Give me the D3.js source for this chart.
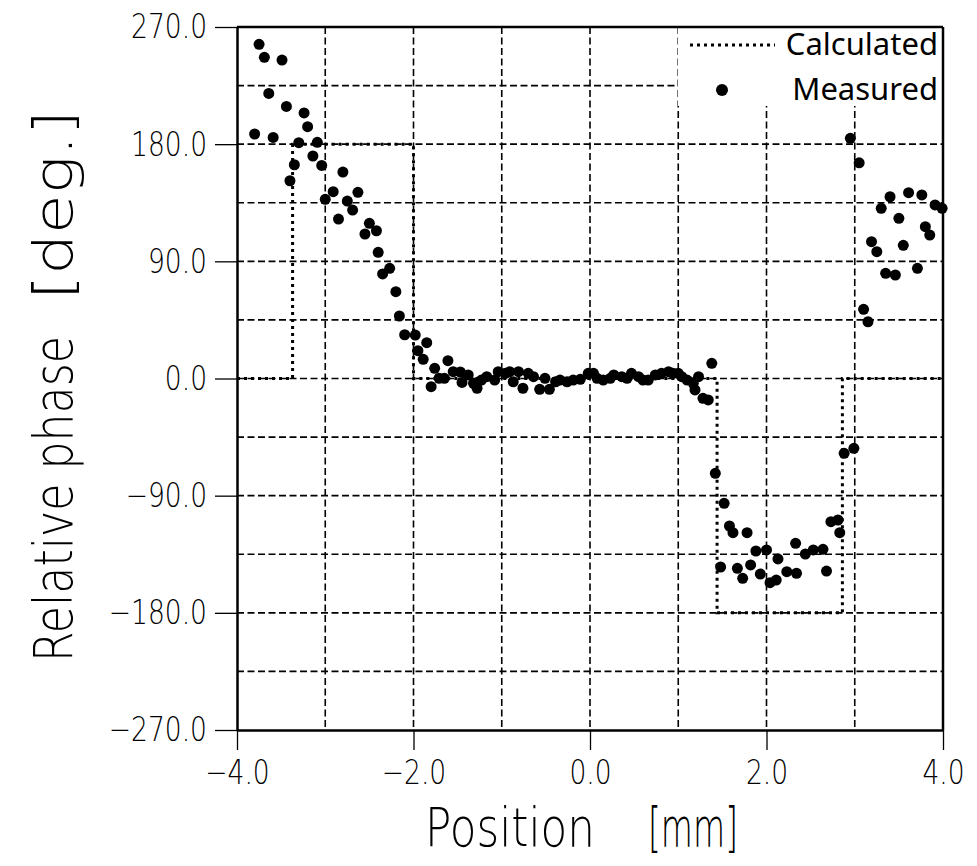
<!DOCTYPE html>
<html>
<head>
<meta charset="utf-8">
<script src="https://cdn.jsdelivr.net/npm/d3@7"></script>
<style>
  html, body { margin: 0; padding: 0; background: #fff; }
  svg { display: block; }
</style>
</head>
<body>
<div id="chart"></div>
<script>
// ---- data ----
const xTicks = [-4, -2, 0, 2, 4];
const yTicks = [-270, -180, -90, 0, 90, 180, 270];
const xGrid = [-3, -2, -1, 0, 1, 2, 3];
const yGrid = [-225, -180, -135, -90, -45, 0, 45, 90, 135, 180, 225];

// calculated phase (step profile)
const calcX = [-4, -3.37, -3.37, -2.0, -2.0, 1.44, 1.44, 2.86, 2.86, 4];
const calcY = [0, 0, 180, 180, 0, 0, -180, -180, 0, 0];

// measured phase
const measX = [-3.80, -3.75, -3.69, -3.64, -3.59, -3.49, -3.44, -3.40, -3.35, -3.30, -3.24, -3.20, -3.14, -3.09, -3.04, -3.00,
  -2.91, -2.85, -2.80, -2.75, -2.69, -2.63, -2.55, -2.50, -2.42, -2.40, -2.35, -2.27, -2.20, -2.16, -2.10, -1.98, -1.95, -1.89,
  -1.85, -1.80, -1.76, -1.71, -1.65, -1.61, -1.55, -1.47, -1.45, -1.38, -1.32, -1.28, -1.23, -1.17, -1.08, -1.04, -0.96, -0.91,
  -0.87, -0.81, -0.76, -0.70, -0.64, -0.57, -0.51, -0.46, -0.39, -0.34, -0.26, -0.19, -0.11, -0.02, 0.04, 0.08, 0.15, 0.23,
  0.27, 0.36, 0.42, 0.47, 0.55, 0.60, 0.66, 0.74, 0.81, 0.89, 0.94, 1.00, 1.04, 1.10, 1.17, 1.19, 1.23, 1.28, 1.34, 1.38,
  1.42, 1.48, 1.52, 1.58, 1.62, 1.67, 1.73, 1.78, 1.82, 1.88, 1.93, 2.00, 2.04, 2.11, 2.13, 2.23, 2.33, 2.34, 2.44, 2.53,
  2.64, 2.68, 2.73, 2.81, 2.83, 2.88, 2.95, 2.99, 3.05, 3.10, 3.15, 3.19, 3.25, 3.30, 3.35, 3.40, 3.46, 3.50, 3.55, 3.61,
  3.71, 3.76, 3.80, 3.85, 3.91, 3.99];
const measY = [187.8, 256.7, 246.7, 219, 185.2, 244.6, 209, 151.9, 164.2, 181.1, 204, 193.4, 170.9, 181.4, 163.7, 137.6,
  143.5, 122.5, 158.6, 136.3, 129.4, 143, 111, 119.2, 113.5, 96.9, 80.3, 84.6, 66.7, 48, 33.6, 33.4, 21.4, 14.7,
  27.5, -6.3, 7.8, 0.2, 0.1, 13.7, 5.2, 5, -3, 2.7, -3.7, -7.5, -1.2, 1.4, -1.2, 5.2, 4, 5.2,
  -2.5, 5.2, -7.5, 4, 1.4, -8.3, 0.1, -8.3, -2.5, -1.2, -2.5, -1.2, -0.6, 4, 4, 0.1, -1.2, 0.1,
  2.7, 1.4, 0.1, 4, 1.4, -1.2, -1.2, 2.7, 4, 5.2, 4, 4, 1.4, -1.2, -3.7, -8.8, 1.4, -15.2, -16.5, 11.7,
  -72.8, -144.8, -95.9, -113.3, -118.4, -145.8, -153.5, -118.4, -143.2, -132.5, -150.2, -131.7, -156.8, -154.8, -138.6, -148.4, -126.6, -149.6, -134.8, -131.7,
  -131.2, -147.9, -110, -108.7, -118.4, -57.5, 184.5, -53.6, 165.7, 53.1, 43.6, 105.1, 97.4, 130.7, 80.8, 139.6, 79.5, 123, 102.3, 142.7,
  84.6, 141, 116.6, 110.2, 133.3, 130.7];

const legendLabels = ["Calculated", "Measured"];

// ---- drawing ----
const W = 977, H = 866;
const L = 237, R = 943, T = 27, B = 730;
const thinFont = "'DejaVu Sans', sans-serif";
const SX = 0.78; // horizontal squeeze for the thin, narrow lettering

const svg = d3.select("#chart").append("svg").attr("width", W).attr("height", H);

const x = d3.scaleLinear().domain([-4, 4]).range([L, R]);
const y = d3.scaleLinear().domain([-270, 270]).range([B, T]);

// grid
const grid = svg.append("g").attr("stroke", "#000").attr("stroke-width", 1.6).attr("stroke-dasharray", "7,3.5");
grid.selectAll("line.v").data(xGrid).join("line")
  .attr("x1", d => x(d)).attr("x2", d => x(d)).attr("y1", T).attr("y2", B);
grid.selectAll("line.h").data(yGrid).join("line")
  .attr("x1", L).attr("x2", R).attr("y1", d => y(d)).attr("y2", d => y(d));

// calculated line
const calcData = calcX.map((v, i) => [v, calcY[i]]);
svg.append("path")
  .datum(calcData)
  .attr("fill", "none").attr("stroke", "#000").attr("stroke-width", 3)
  .attr("stroke-dasharray", "3,4")
  .attr("d", d3.line().x(d => x(d[0])).y(d => y(d[1])));

// legend background (covers grid)
svg.append("rect").attr("x", 678).attr("y", T + 1).attr("width", R - 678 - 1).attr("height", 106 - T - 1).attr("fill", "#fff");

// measured points
const measData = measX.map((v, i) => [v, measY[i]]);
svg.append("g").selectAll("circle").data(measData).join("circle")
  .attr("cx", d => x(d[0])).attr("cy", d => y(d[1])).attr("r", 5.5).attr("fill", "#000");

const fmt = d => d3.format(".1f")(d).replace("-", "\u2212");

// axes
const xAxis = d3.axisBottom(x).tickValues(xTicks).tickSize(20).tickSizeOuter(0).tickPadding(10).tickFormat(fmt);
const gx = svg.append("g").attr("transform", `translate(0,${B})`).call(xAxis);
gx.select(".domain").attr("stroke-width", 2.5);
gx.selectAll(".tick line").attr("stroke-width", 1.3);
gx.selectAll("text").attr("font-family", thinFont).attr("font-weight", 200).attr("font-size", 34).attr("fill", "#000")
  .attr("transform", `scale(${SX},1)`);

const yAxis = d3.axisLeft(y).tickValues(yTicks).tickSize(22).tickSizeOuter(0).tickPadding(8).tickFormat(fmt);
const gy = svg.append("g").attr("transform", `translate(${L},0)`).call(yAxis);
gy.select(".domain").attr("stroke-width", 2.5);
gy.selectAll(".tick line").attr("stroke-width", 1.3);
gy.selectAll("text").attr("font-family", thinFont).attr("font-weight", 200).attr("font-size", 34).attr("fill", "#000")
  .attr("x", -30 / SX).attr("transform", `scale(${SX},1)`);

// top & right frame
svg.append("line").attr("x1", L).attr("x2", R).attr("y1", T).attr("y2", T).attr("stroke", "#000").attr("stroke-width", 2.5);
svg.append("line").attr("x1", R).attr("x2", R).attr("y1", T).attr("y2", B).attr("stroke", "#000").attr("stroke-width", 2.5);

// axis titles
const titleStyle = sel => sel.attr("font-family", thinFont).attr("font-weight", 200).attr("font-size", 54)
  .attr("fill", "#000").attr("lengthAdjust", "spacingAndGlyphs");
svg.append("text").attr("transform", "translate(425,846)").attr("text-anchor", "start")
  .call(titleStyle).attr("textLength", 170).text("Position");
svg.append("text").attr("transform", "translate(648,846)").attr("text-anchor", "start")
  .call(titleStyle).attr("textLength", 90).text("[mm]");
svg.append("text").attr("transform", "translate(72,662) rotate(-90)").attr("text-anchor", "start")
  .call(titleStyle).attr("textLength", 326).text("Relative phase");
svg.append("text").attr("transform", "translate(72,300) rotate(-90)").attr("text-anchor", "start")
  .call(titleStyle).attr("textLength", 190).text("[deg.]");

// legend
const lg = svg.append("g");
lg.append("line").attr("x1", 690).attr("x2", 775).attr("y1", 45).attr("y2", 45)
  .attr("stroke", "#000").attr("stroke-width", 3).attr("stroke-dasharray", "3,4");
lg.append("circle").attr("cx", 722).attr("cy", 90).attr("r", 6).attr("fill", "#000");
lg.selectAll("text").data(legendLabels).join("text")
  .attr("x", 938).attr("y", (d, i) => 55 + i * 45).attr("text-anchor", "end")
  .attr("font-family", "'Noto Sans', 'Open Sans', sans-serif").attr("font-size", 31).attr("fill", "#000")
  .text(d => d);
</script>
</body>
</html>
